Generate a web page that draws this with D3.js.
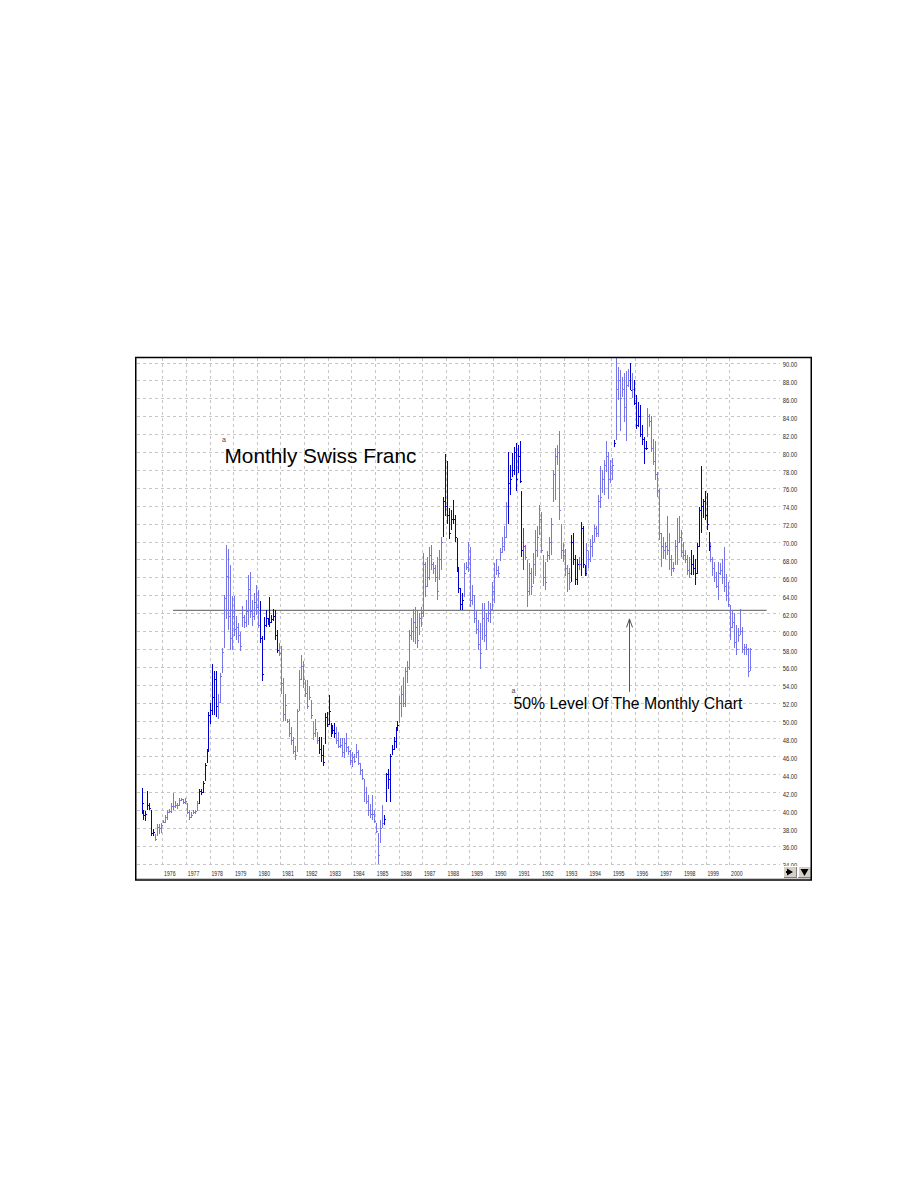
<!DOCTYPE html>
<html><head><meta charset="utf-8">
<script src="https://cdn.jsdelivr.net/npm/d3@7"></script>
<style>html,body{margin:0;padding:0;background:#fff}</style>
</head><body>
<svg id="c" width="918" height="1188"></svg>
<script>
// Monthly Swiss Franc, monthly bars Feb 1975 .. Nov 2000 (values in US cents)
const firstBar = [1975, 1]; // year, month index (Feb)
const yearTicks = [1976,1977,1978,1979,1980,1981,1982,1983,1984,1985,1986,1987,1988,1989,1990,1991,1992,1993,1994,1995,1996,1997,1998,1999,2000];
const priceTicks = [34,36,38,40,42,44,46,48,50,52,54,56,58,60,62,64,66,68,70,72,74,76,78,80,82,84,86,88,90];
const highs = [
 42.5,40.0,39.9,42.1,40.8,40.0,37.9,37.3,38.4,38.4,38.6,
 38.9,39.4,40.0,40.1,40.8,41.9,41.0,40.8,41.3,41.3,41.2,41.3,
 40.8,40.0,39.8,40.0,40.0,41.0,42.3,42.3,43.2,45.2,46.8,50.9,
 52.0,56.3,55.5,55.5,53.0,55.3,58.1,64.0,69.6,69.2,67.4,63.9,
 63.9,61.7,60.9,59.9,62.8,61.8,63.5,66.3,66.6,63.5,64.2,65.1,
 64.6,63.3,59.4,61.6,62.4,61.5,63.8,61.8,62.5,62.4,60.1,58.7,
 58.3,54.8,53.0,50.2,50.2,49.3,48.2,47.1,51.3,55.6,57.3,56.7,
 54.5,54.5,53.9,52.3,50.0,50.2,48.7,48.2,48.2,47.3,50.8,50.9,
 52.8,49.7,49.5,49.7,49.3,48.7,48.0,48.1,48.0,48.6,47.1,46.7,
 46.5,46.3,47.4,46.7,45.2,44.6,43.5,42.6,41.7,40.7,41.7,40.0,
 38.5,37.4,38.9,40.6,39.4,44.1,44.6,46.3,47.3,48.2,49.3,50.0,
 52.7,53.8,54.9,56.0,56.6,60.1,61.4,62.5,62.7,62.3,62.0,62.7,
 68.7,67.7,68.3,69.4,69.6,67.7,67.4,68.3,69.0,70.5,75.0,79.8,
 79.0,73.7,73.5,74.6,73.0,70.4,67.2,64.8,64.2,67.6,67.7,70.0,
 69.4,65.1,64.0,62.3,61.2,60.9,63.1,63.1,62.0,63.3,63.1,65.5,
 67.6,68.1,67.3,69.3,70.5,71.7,74.4,80.0,78.5,79.9,80.6,81.0,
 80.8,81.2,75.6,71.5,69.6,67.9,67.6,67.0,68.7,71.3,71.7,74.1,
 73.3,68.5,67.7,68.9,70.5,72.6,78.0,80.5,80.8,82.3,72.0,69.8,
 69.2,67.4,67.0,70.7,70.9,68.5,68.1,68.3,72.2,71.7,67.4,69.8,
 68.9,70.3,70.7,71.8,71.7,75.2,78.4,78.0,79.1,81.2,80.0,79.1,
 79.3,81.3,90.5,89.5,89.2,88.4,88.8,89.0,89.3,89.9,88.8,88.0,
 86.4,85.6,85.2,83.0,81.7,81.2,84.9,84.3,84.0,81.5,81.2,77.8,
 75.9,70.9,70.5,70.0,72.8,70.9,68.5,67.7,70.2,72.6,72.8,71.3,
 70.0,69.0,68.5,68.3,69.0,68.5,68.1,69.8,73.9,78.4,74.8,75.6,
 75.4,71.1,70.0,68.3,67.7,66.6,67.7,67.6,68.1,69.4,66.4,65.5,
 62.9,62.3,62.0,60.7,60.3,62.5,60.5,58.6,58.6,58.1,58.1
];
const lows = [
 39.5,38.9,38.8,40.0,40.0,37.1,37.1,36.5,37.1,37.3,37.4,
 38.5,38.6,38.9,39.7,39.7,40.0,40.2,40.1,40.4,41.0,40.7,40.7,
 39.5,38.9,39.1,39.5,39.5,39.9,40.7,41.7,41.9,43.2,45.2,46.6,
 49.6,50.6,50.6,50.4,50.2,51.9,55.3,58.1,61.3,60.1,57.9,57.9,
 59.4,59.0,58.7,57.8,60.4,60.3,60.5,60.7,61.4,60.6,61.2,61.8,
 60.3,58.7,54.4,59.0,60.5,60.7,60.5,60.9,61.1,59.0,57.5,57.2,
 53.0,49.9,50.0,49.7,48.2,47.3,46.3,45.6,46.5,51.1,54.5,53.6,
 52.6,51.3,52.3,50.2,47.8,48.2,47.4,46.3,45.4,44.9,47.4,49.3,
 49.5,48.2,48.6,48.0,47.4,46.9,46.9,45.9,45.8,46.5,46.1,45.0,
 44.8,45.2,45.8,45.0,43.9,43.3,40.9,40.7,39.3,39.1,38.9,38.5,
 37.4,34.0,36.3,38.0,38.3,40.9,42.4,40.9,46.1,46.7,46.9,48.8,
 49.7,50.4,51.5,51.5,54.2,55.6,59.0,58.8,58.6,58.1,59.5,60.5,
 61.6,63.8,64.9,65.7,66.8,66.4,65.5,63.5,65.7,66.8,70.5,72.8,
 72.0,70.3,71.3,72.0,70.0,66.6,64.2,62.3,62.3,63.8,66.8,66.6,
 62.7,62.9,60.9,59.7,57.9,55.8,59.0,58.8,57.9,61.0,60.9,62.3,
 63.1,66.3,66.0,67.8,68.7,68.9,70.4,72.0,75.2,77.2,77.4,75.6,
 77.6,76.5,68.3,66.8,67.9,62.7,64.0,64.0,65.3,66.1,68.3,70.7,
 68.7,65.0,64.6,67.7,67.9,68.5,74.4,74.6,78.5,72.4,68.1,67.7,
 66.2,64.4,64.6,65.5,67.4,65.1,65.1,66.8,66.1,67.0,66.1,66.2,
 67.0,67.7,68.3,70.0,70.5,70.5,73.7,75.4,75.2,77.8,74.8,76.5,
 76.9,80.6,81.3,85.8,82.3,86.2,83.4,81.2,87.3,86.9,86.0,85.2,
 82.6,82.8,81.7,80.8,78.7,80.2,81.7,82.8,80.0,78.5,76.9,75.0,
 70.2,67.2,68.1,68.1,68.5,66.8,66.1,66.6,67.4,67.4,69.8,68.3,
 67.9,67.6,66.3,65.9,66.3,66.3,65.1,66.4,69.4,70.9,72.6,72.4,
 71.3,68.9,67.7,66.1,65.5,64.8,63.5,66.3,65.3,64.4,63.3,62.7,
 59.0,60.3,58.1,57.3,58.8,59.6,57.5,57.3,57.3,54.9,55.5
];
const closes = [
 40.8,39.4,39.6,40.6,40.2,37.4,37.5,36.8,38.1,38.0,38.3,
 38.7,39.2,39.8,39.9,40.5,40.4,40.6,40.6,41.1,41.2,40.9,41.0,
 39.8,39.2,39.4,39.8,39.9,40.8,42.1,42.0,43.0,45.0,46.6,50.6,
 51.2,52.6,54.6,51.6,52.1,55.0,57.7,63.7,66.2,61.7,59.2,61.7,
 60.2,60.5,59.5,58.3,61.6,61.0,62.2,64.7,62.2,61.7,63.2,62.7,
 60.7,59.2,55.2,60.7,61.5,61.2,61.0,61.3,61.7,59.5,57.9,57.5,
 54.2,50.7,51.7,49.9,48.6,47.8,46.6,46.2,51.1,54.6,56.1,54.6,
 53.1,51.6,52.6,50.6,48.6,49.1,47.8,46.8,46.1,45.4,50.4,49.6,
 51.1,48.6,48.9,48.6,47.8,47.2,47.3,46.5,47.5,47.0,46.6,45.6,
 45.9,45.5,46.5,45.3,44.5,43.6,42.0,41.0,40.0,39.5,39.6,38.8,
 37.6,35.0,38.0,38.5,39.0,44.0,43.5,46.0,46.8,47.7,49.0,49.5,
 52.0,53.0,52.0,55.5,56.0,59.5,60.0,61.0,60.5,59.0,61.5,62.0,
 67.5,65.0,66.0,68.5,67.5,67.0,66.0,64.5,68.0,70.0,74.5,74.0,
 73.0,71.0,72.5,72.5,70.5,67.0,64.8,63.0,63.5,66.5,67.2,68.0,
 63.5,64.0,61.5,60.2,58.5,57.5,61.5,59.5,61.5,62.0,62.5,64.5,
 66.0,66.8,66.5,68.8,69.5,70.5,74.0,76.5,77.0,78.0,80.0,77.0,
 79.5,76.8,69.0,69.5,68.3,64.5,66.5,65.0,67.5,69.0,70.5,72.5,
 69.0,66.0,65.5,68.5,70.0,72.0,77.5,79.5,80.0,73.5,69.0,68.5,
 67.0,66.5,65.5,70.0,68.0,65.8,67.5,67.5,71.5,67.5,66.5,69.0,
 68.0,69.5,70.0,71.5,71.0,74.5,75.0,77.0,78.5,79.5,77.0,78.0,
 78.5,81.0,87.0,88.0,86.0,87.0,85.0,87.5,88.0,86.9,87.0,85.5,
 83.0,84.0,82.0,81.5,80.5,80.5,84.0,83.5,80.5,79.0,77.5,75.8,
 71.0,69.5,69.0,69.5,69.0,68.0,67.0,67.0,69.5,70.0,70.5,68.8,
 68.5,68.0,66.8,66.5,67.5,67.0,66.5,69.5,73.5,74.0,74.5,73.0,
 72.0,69.5,68.0,67.0,66.0,65.0,66.5,66.8,66.0,65.0,64.0,63.0,
 60.5,61.0,58.8,58.0,59.5,60.0,58.0,58.2,58.0,55.5,58.0
];
// bar signal class: D = strong, L = normal, R = red alert, M = magenta alert
const barSignal = [
 "D","D","D","D","D","D","D","L","L","L","L",
 "L","L","L","L","L","L","L","L","L","L","L","L",
 "L","L","L","L","L","L","D","D","D","D","D","D",
 "D","D","D","D","L","L","L","L","L","L","L","L",
 "L","L","L","L","L","L","L","L","L","L","L","L",
 "L","D","D","D","D","D","D","D","D","D","D","L",
 "L","L","L","L","L","L","L","L","L","L","L","L",
 "L","L","L","L","R","L","L","D","D","D","D","D",
 "D","D","D","D","L","L","L","L","L","L","L","L",
 "L","L","L","L","L","L","L","L","L","L","L","L",
 "L","L","L","L","D","D","D","D","D","D","D","D",
 "L","L","L","L","L","L","L","L","L","L","L","L",
 "L","L","L","L","L","L","L","L","L","L","D","D",
 "D","D","D","D","D","D","D","D","D","L","L","L",
 "L","L","L","L","L","L","L","L","L","L","L","L",
 "L","L","L","L","L","L","L","D","D","D","D","D",
 "D","D","D","M","L","L","L","L","L","L","L","L",
 "L","L","L","L","L","L","L","L","L","L","L","L",
 "L","L","L","D","D","D","D","L","D","D","D","L",
 "L","L","L","L","L","L","L","L","L","L","L","L",
 "L","D","L","L","L","L","L","L","L","D","L","D",
 "D","D","D","D","D","D","L","L","L","L","L","L",
 "L","L","L","L","L","L","L","L","L","L","L","L",
 "L","L","L","L","D","D","D","D","D","D","D","D",
 "D","D","L","L","L","L","L","L","L","L","L","L",
 "L","L","L","L","L","L","L","L","L","L","L"
];
const fiftyPercentLevel = 62.3;

const signalColor = {D: "#0000cc", L: "#7676e6", R: "#f06a6a", M: "#c800c8"};
const svg = d3.select("#c");
svg.append("rect").attr("width", 918).attr("height", 1188).attr("fill", "#fff");

const plot = {left: 136, right: 780, top: 358, bottom: 866};
const x = d3.scaleTime()
  .domain([new Date(1976, 0, 1), new Date(2000, 0, 1)])
  .range([162.3, 729.3]);
const y = d3.scaleLinear().domain([34, 90]).range([863.7, 362.5]);
const bars = highs.map((h, k) => ({
  date: new Date(firstBar[0], firstBar[1] + k, 15),
  h, l: lows[k], c: closes[k], s: barSignal[k]
}));

svg.append("defs").append("clipPath").attr("id", "pc")
  .append("rect").attr("x", plot.left).attr("y", plot.top)
  .attr("width", plot.right - plot.left).attr("height", plot.bottom - plot.top);

// grid
const grid = svg.append("g").attr("stroke", "#c6c6c6").attr("stroke-dasharray", "3,3")
  .attr("shape-rendering", "crispEdges");
grid.selectAll("line.h").data(priceTicks).join("line").attr("class", "h")
  .attr("x1", plot.left + 1).attr("x2", plot.right)
  .attr("y1", d => Math.round(y(d)) + 0.5).attr("y2", d => Math.round(y(d)) + 0.5);
grid.selectAll("line.v").data(yearTicks).join("line").attr("class", "v")
  .attr("x1", d => Math.round(x(new Date(d, 0, 1))) + 0.5)
  .attr("x2", d => Math.round(x(new Date(d, 0, 1))) + 0.5)
  .attr("y1", plot.top).attr("y2", plot.bottom);

// 50% level line
svg.append("line")
  .attr("x1", x(new Date(1976, 5, 15))).attr("x2", x(new Date(2001, 7, 1)))
  .attr("y1", y(fiftyPercentLevel)).attr("y2", y(fiftyPercentLevel))
  .attr("stroke", "#7a7a7a").attr("stroke-width", 1.3);

// bars
const gb = svg.append("g").attr("clip-path", "url(#pc)").attr("shape-rendering", "crispEdges");
gb.selectAll("rect.bar").data(bars).join("rect").attr("class", "bar")
  .attr("x", d => Math.round(x(d.date)))
  .attr("width", 1)
  .attr("y", d => Math.round(y(d.h)))
  .attr("height", d => Math.max(1, Math.round(y(d.l)) - Math.round(y(d.h))))
  .attr("fill", d => signalColor[d.s]);
gb.selectAll("rect.tick").data(bars).join("rect").attr("class", "tick")
  .attr("x", d => Math.round(x(d.date)) + 1)
  .attr("width", 1)
  .attr("y", d => Math.round(y(d.c)))
  .attr("height", 1)
  .attr("fill", d => signalColor[d.s]);

// annotations
const font = "'Liberation Sans', Arial, sans-serif";
svg.append("text").attr("x", 222).attr("y", 442).attr("font-family", font)
  .attr("font-size", 7).attr("fill", "#444").text("a");
svg.append("text").attr("x", 224.5).attr("y", 462.5).attr("font-family", font)
  .attr("font-size", 20.8).attr("fill", "#000").text("Monthly Swiss Franc");
svg.append("text").attr("x", 511.5).attr("y", 693).attr("font-family", font)
  .attr("font-size", 7).attr("fill", "#444").text("a");
svg.append("text").attr("x", 513.5).attr("y", 709.3).attr("font-family", font)
  .attr("font-size", 15.8).attr("fill", "#000").text("50% Level Of The Monthly Chart");

// arrow
const ax = Math.round(x(new Date(1995, 8, 26))) + 0.5;
const arrow = svg.append("g").attr("stroke", "#555").attr("fill", "none").attr("stroke-width", 1);
arrow.append("line").attr("x1", ax).attr("x2", ax).attr("y1", y(61.35)).attr("y2", y(53.2));
arrow.append("path").attr("d", `M${ax - 3},${y(60.4)} L${ax},${y(61.35)} L${ax + 3},${y(60.4)}`);

// right price labels
const lab = svg.append("g").attr("font-family", font).attr("font-size", 6.6).attr("fill", "#2a2a2a");
svg.append("defs").append("clipPath").attr("id", "lc")
  .append("rect").attr("x", 780).attr("y", 358).attr("width", 30).attr("height", 508);
lab.append("g").attr("clip-path", "url(#lc)")
  .selectAll("text").data(priceTicks).join("text")
  .attr("x", 782.7).attr("y", d => y(d) + 4.6)
  .attr("textLength", 14.6).attr("lengthAdjust", "spacingAndGlyphs")
  .text(d => d3.format(".2f")(d));
// year labels
lab.selectAll("text.yr").data(yearTicks).join("text").attr("class", "yr")
  .attr("x", d => x(new Date(d, 0, 1)) + 1.8).attr("y", 875.6)
  .attr("textLength", 11.5).attr("lengthAdjust", "spacingAndGlyphs")
  .text(d => d);

// scroll buttons
function button(bx, kind) {
  const g = svg.append("g").attr("shape-rendering", "crispEdges");
  g.append("rect").attr("x", bx).attr("y", 866).attr("width", 14).attr("height", 12).attr("fill", "#d4d0c8");
  g.append("path").attr("d", `M${bx + 0.5},${877.5}V${866.5}H${bx + 13.5}`).attr("stroke", "#fff").attr("fill", "none");
  g.append("path").attr("d", `M${bx + 0.5},${877.5}H${bx + 13.5}V${866.5}`).attr("stroke", "#808080").attr("fill", "none");
  if (kind === "right") {
    g.append("path").attr("d", `M${bx + 4},868.5 L${bx + 4},875.5 L${bx + 10},872 Z`).attr("fill", "#000").attr("shape-rendering", "auto");
    g.append("rect").attr("x", bx + 3).attr("y", 871).attr("width", 2).attr("height", 2).attr("fill", "#000");
  } else {
    g.append("path").attr("d", `M${bx + 3},869 L${bx + 11},869 L${bx + 7},876 Z`).attr("fill", "#000").attr("shape-rendering", "auto");
  }
}
button(783, "right");
button(797.5, "down");

// frame
svg.append("line").attr("x1", 136).attr("x2", 811).attr("y1", 878.5).attr("y2", 878.5)
  .attr("stroke", "#c8c8c8");
svg.append("rect").attr("x", 135.75).attr("y", 357.5).attr("width", 675.5).attr("height", 522.5)
  .attr("fill", "none").attr("stroke", "#000").attr("stroke-width", 1.5);
</script>
</body></html>
